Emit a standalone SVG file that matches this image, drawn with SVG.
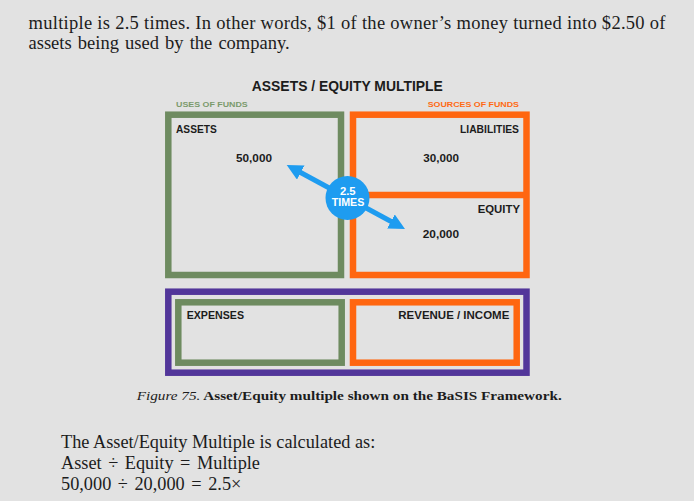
<svg xmlns="http://www.w3.org/2000/svg" width="694" height="501" viewBox="0 0 694 501">
<style>
.body{font-family:"Liberation Serif","Times New Roman",serif;font-size:18.5px;fill:#1c1c1c}
.low{font-size:18.3px}
.cap{font-family:"Liberation Serif","Times New Roman",serif;font-size:13.5px;fill:#1c1c1c}
.lbl{font-family:"Liberation Sans",Arial,sans-serif;font-weight:bold;fill:#1c1c1c}
.box{fill:none;stroke-width:6.5}
.g{stroke:#6e8b60}
.o{stroke:#ff6610}
.p{stroke:#52369a}
</style>
<defs>
<marker id="ah" viewBox="0 0 16 16" refX="6" refY="8" markerWidth="16" markerHeight="16" markerUnits="userSpaceOnUse" orient="auto-start-reverse">
<path d="M0,0 L16,8 L0,16 z" fill="#1e9cf0"/>
</marker>
</defs>
<rect width="694" height="501" fill="#e2e2e2"/>
<text class="body" x="28.5" y="28.5" textLength="637" lengthAdjust="spacing">multiple is 2.5 times. In other words, $1 of the owner’s money turned into $2.50 of</text>
<text class="body" x="28.5" y="49" word-spacing="1.5">assets being used by the company.</text>

<text class="lbl" x="347.3" y="91" font-size="15.5" text-anchor="middle" textLength="191" lengthAdjust="spacingAndGlyphs">ASSETS / EQUITY MULTIPLE</text>
<text class="lbl" x="176" y="106.7" font-size="8" style="fill:#7b9a6c" textLength="71.7" lengthAdjust="spacingAndGlyphs">USES OF FUNDS</text>
<text class="lbl" x="519" y="106.7" font-size="8" text-anchor="end" style="fill:#ff6a13" textLength="91.3" lengthAdjust="spacingAndGlyphs">SOURCES OF FUNDS</text>

<g id="assets">
<rect class="box g" x="168.3" y="114.7" width="172.7" height="160.3"/>
<text class="lbl" x="176" y="133.3" font-size="11.5" textLength="40.7" lengthAdjust="spacingAndGlyphs">ASSETS</text>
<text class="lbl" x="236" y="162.3" font-size="11.5" textLength="36" lengthAdjust="spacingAndGlyphs">50,000</text>
</g>
<g id="liabilities">
<rect class="box o" x="353" y="114.7" width="173.5" height="160.3"/>
<text class="lbl" x="519" y="133.3" font-size="11.5" text-anchor="end" textLength="59" lengthAdjust="spacingAndGlyphs">LIABILITIES</text>
<text class="lbl" x="423.3" y="162.3" font-size="11.5" textLength="35.7" lengthAdjust="spacingAndGlyphs">30,000</text>
</g>
<g id="equity">
<line class="box o" x1="353" y1="195" x2="526.5" y2="195"/>
<text class="lbl" x="520" y="213.3" font-size="11.5" text-anchor="end" textLength="42.3" lengthAdjust="spacingAndGlyphs">EQUITY</text>
<text class="lbl" x="422.7" y="237.7" font-size="11.5" textLength="36.3" lengthAdjust="spacingAndGlyphs">20,000</text>
</g>
<g id="framework">
<rect class="box p" x="168.3" y="291.7" width="358.2" height="81"/>
</g>
<g id="expenses">
<rect class="box g" x="178.3" y="302.3" width="163.4" height="60.4"/>
<text class="lbl" x="186.7" y="319.3" font-size="11.5" textLength="57.3" lengthAdjust="spacingAndGlyphs">EXPENSES</text>
</g>
<g id="revenue">
<rect class="box o" x="353" y="302.3" width="163.7" height="60.4"/>
<text class="lbl" x="509.3" y="319.3" font-size="11.5" text-anchor="end" textLength="111" lengthAdjust="spacingAndGlyphs">REVENUE / INCOME</text>
</g>

<g id="connectors">
<line x1="295.5" y1="169.7" x2="396.2" y2="224.3" stroke="#1e9cf0" stroke-width="5" marker-start="url(#ah)" marker-end="url(#ah)"/>
</g>
<g id="multiple">
<circle cx="347.5" cy="198" r="22" fill="#1e9cf0"/>
<text class="lbl" x="347.8" y="195" font-size="11.5" text-anchor="middle" style="fill:#ffffff" textLength="15.7" lengthAdjust="spacingAndGlyphs">2.5</text>
<text class="lbl" x="348" y="206" font-size="11.5" text-anchor="middle" style="fill:#ffffff" textLength="32.6" lengthAdjust="spacingAndGlyphs">TIMES</text>
</g>

<text class="cap" x="136.7" y="400" textLength="425" lengthAdjust="spacingAndGlyphs"><tspan font-style="italic">Figure 75.</tspan><tspan font-weight="bold"> Asset/Equity multiple shown on the BaSIS Framework.</tspan></text>

<text class="body low" x="61" y="447.7">The Asset/Equity Multiple is calculated as:</text>
<text class="body low" x="61" y="469.3" word-spacing="2">Asset ÷ Equity = Multiple</text>
<text class="body low" x="61" y="490" word-spacing="2">50,000 ÷ 20,000 = 2.5×</text>
</svg>
